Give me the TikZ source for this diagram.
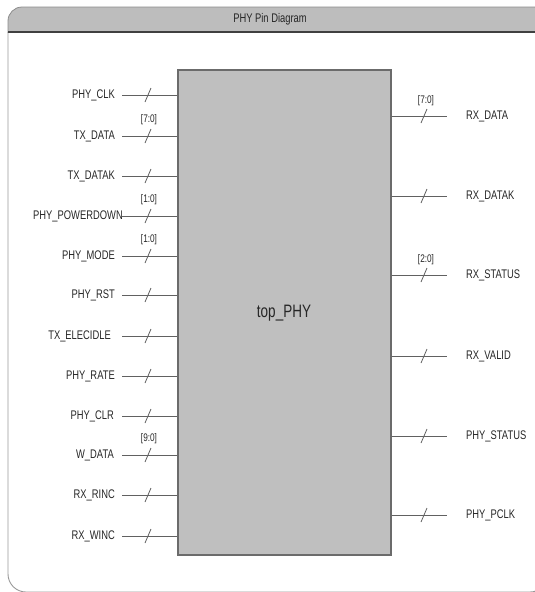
\documentclass[tikz,border=0pt]{standalone}
\usepackage{fontspec}
\usepackage{graphicx}
\setmainfont{Liberation Sans}
\newcommand{\narrowtxt}[1]{\scalebox{0.75}[1]{#1}}
\begin{document}
\begin{tikzpicture}[x=1pt,y=-1pt,
  pinlab/.style={font=\fontsize{12.5}{12.5}\selectfont, inner sep=0pt, text=black!85},
  buslab/.style={font=\fontsize{11}{11}\selectfont, inner sep=0pt, text=black!85},
  wire/.style={draw=black!62, line width=0.9pt},
  slashline/.style={draw=black!62, line width=0.8pt},
  blockbox/.style={draw=black!58, line width=1.2pt, fill=black!25, minimum width=213pt, minimum height=485pt, inner sep=0pt}
]
\useasboundingbox (0,0) rectangle (535,592);
% frame
\begin{scope}
  \clip (0,0) rectangle (535,32);
  \fill[black!26, rounded corners=14] (8,7) rectangle (548,60);
  \draw[black!45, line width=0.8pt, rounded corners=14] (8,7) rectangle (548,60);
\end{scope}
\begin{scope}
  \clip (0,32) rectangle (535,592);
  \draw[black!40, line width=0.9pt, rounded corners=18] (8,7) rectangle (548,592);
\end{scope}
\draw[black!75, line width=1.3pt] (8,32) -- (535,32);
\node[font=\fontsize{12.5}{12.5}\selectfont, inner sep=0pt, text=black!85] (title) at (270,19) {\narrowtxt{PHY Pin Diagram}};
% block
\node[blockbox] (top) at (284.5,312.5) {};
\node[font=\fontsize{18}{18}\selectfont, inner sep=0pt, text=black!85] (toplab) at (284,313) {\narrowtxt{top\_PHY}};
% left pins
\foreach \nm/\yy/\bus/\lx [count=\i] in {
  PHY\_CLK/95//115,
  TX\_DATA/136/[7:0]/115,
  TX\_DATAK/176//115,
  PHY\_POWERDOWN/216/[1:0]/123,
  PHY\_MODE/256/[1:0]/115,
  PHY\_RST/295//115,
  TX\_ELECIDLE/336//111,
  PHY\_RATE/376//115,
  PHY\_CLR/416//114,
  W\_DATA/455/[9:0]/114,
  RX\_RINC/495//115,
  RX\_WINC/536//115} {
  \coordinate (L\i) at (122,\yy);
  \node[pinlab, anchor=east] (Ln\i) at (\lx,\yy) {\narrowtxt{\nm}};
  \draw[wire] (L\i) -- (L\i -| top.west);
  \draw[slashline] (145,\yy+7) -- (151,\yy-7);
  \node[buslab] (Lb\i) at (149,\yy-16) {\narrowtxt{\bus}};
}
% right pins
\foreach \nm/\yy/\bus [count=\i] in {
  RX\_DATA/116/[7:0],
  RX\_DATAK/196/,
  RX\_STATUS/275/[2:0],
  RX\_VALID/356/,
  PHY\_STATUS/436/,
  PHY\_PCLK/515/} {
  \coordinate (R\i) at (447,\yy);
  \node[pinlab, anchor=west] (Rn\i) at (466,\yy) {\narrowtxt{\nm}};
  \draw[wire] (R\i -| top.east) -- (R\i);
  \draw[slashline] (421,\yy+7) -- (427,\yy-7);
  \node[buslab] (Rb\i) at (426,\yy-15) {\narrowtxt{\bus}};
}
\end{tikzpicture}
\end{document}
